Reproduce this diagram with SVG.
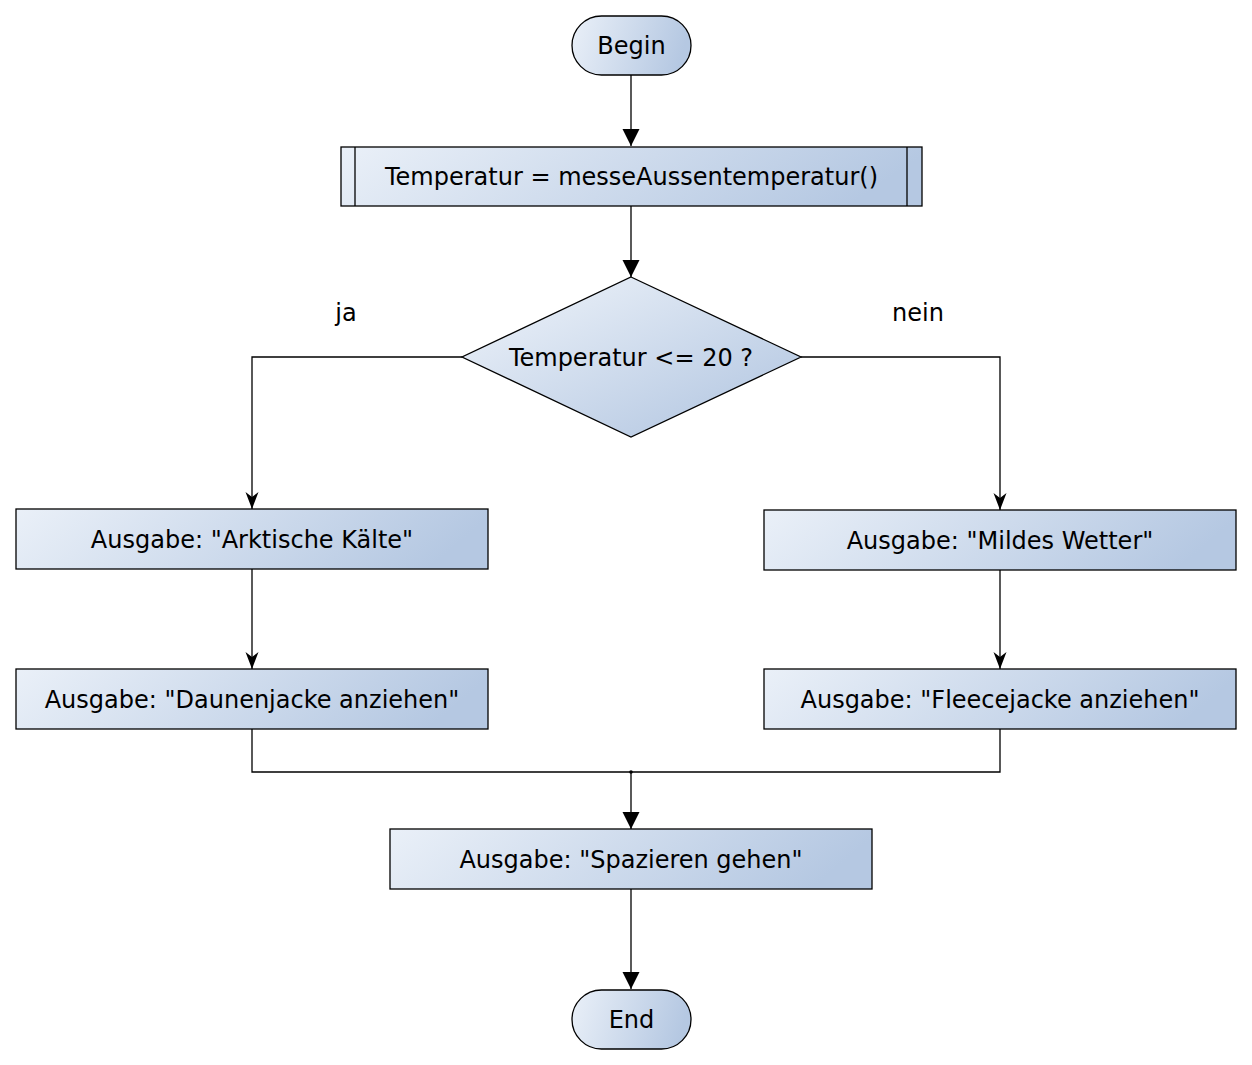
<svg xmlns="http://www.w3.org/2000/svg" width="1252" height="1065" viewBox="0 0 1252 1065">
<style>
.shape{fill:url(#g);stroke:#000;stroke-width:1.3}
.lbl{font-family:"DejaVu Sans",sans-serif;font-size:24px;fill:#000;text-anchor:middle;dominant-baseline:central}
.edge{fill:none;stroke:#000;stroke-width:1.3}
</style>
<defs>
<linearGradient id="g" x1="0" y1="0" x2="1" y2="0.15">
<stop offset="0" stop-color="#eaf0f8"/>
<stop offset="1" stop-color="#b5c8e2"/>
</linearGradient>
<linearGradient id="gd" x1="0" y1="0" x2="1" y2="1">
<stop offset="0.1" stop-color="#eaf0f8"/>
<stop offset="0.9" stop-color="#b5c8e2"/>
</linearGradient>
<marker id="af" markerUnits="userSpaceOnUse" markerWidth="18" markerHeight="18" refX="17" refY="8.5" orient="auto">
<path d="M0,0 L17,8.5 L0,17 z" fill="#000"/>
</marker>
<marker id="ab" markerUnits="userSpaceOnUse" markerWidth="18" markerHeight="14" refX="17" refY="6.5" orient="auto">
<path d="M0,0 L17,6.5 L0,13 L5,6.5 z" fill="#000"/>
</marker>
</defs>
<g id="connectors">
<path class="edge" d="M631,75 L631,146" marker-end="url(#af)"/>
<path class="edge" d="M631,206 L631,277" marker-end="url(#af)"/>
<path class="edge" d="M462,357 L252,357 L252,509" marker-end="url(#ab)"/>
<path class="edge" d="M801,357 L1000,357 L1000,510" marker-end="url(#ab)"/>
<path class="edge" d="M252,569 L252,669" marker-end="url(#ab)"/>
<path class="edge" d="M1000,570 L1000,669" marker-end="url(#ab)"/>
<path class="edge" d="M252,729 L252,772 L1000,772 L1000,729"/>
<circle cx="631" cy="772" r="1.8" fill="#000"/>
<path class="edge" d="M631,772 L631,829" marker-end="url(#af)"/>
<path class="edge" d="M631,889 L631,989" marker-end="url(#af)"/>
<text class="lbl" x="346" y="313">ja</text>
<text class="lbl" x="918" y="313">nein</text>
</g>
<g id="begin">
<rect class="shape" x="572" y="16" width="119" height="59" rx="29.5"/>
<text class="lbl" x="631.5" y="46">Begin</text>
</g>
<g id="subprocess">
<rect class="shape" x="341" y="147" width="581" height="59"/>
<line class="edge" x1="355" y1="147" x2="355" y2="206"/>
<line class="edge" x1="907" y1="147" x2="907" y2="206"/>
<text class="lbl" x="631.5" y="177">Temperatur = messeAussentemperatur()</text>
</g>
<g id="decision">
<polygon class="shape" style="fill:url(#gd)" points="631,277 801,357 631,437 462,357"/>
<text class="lbl" x="631" y="358">Temperatur &lt;= 20 ?</text>
</g>
<g id="kaelte">
<rect class="shape" x="16" y="509" width="472" height="60"/>
<text class="lbl" x="252" y="540">Ausgabe: "Arktische Kälte"</text>
</g>
<g id="mild">
<rect class="shape" x="764" y="510" width="472" height="60"/>
<text class="lbl" x="1000" y="541">Ausgabe: "Mildes Wetter"</text>
</g>
<g id="daunen">
<rect class="shape" x="16" y="669" width="472" height="60"/>
<text class="lbl" x="252" y="700">Ausgabe: "Daunenjacke anziehen"</text>
</g>
<g id="fleece">
<rect class="shape" x="764" y="669" width="472" height="60"/>
<text class="lbl" x="1000" y="700">Ausgabe: "Fleecejacke anziehen"</text>
</g>
<g id="spazieren">
<rect class="shape" x="390" y="829" width="482" height="60"/>
<text class="lbl" x="631" y="860">Ausgabe: "Spazieren gehen"</text>
</g>
<g id="end">
<rect class="shape" x="572" y="990" width="119" height="59" rx="29.5"/>
<text class="lbl" x="631.5" y="1020">End</text>
</g>
</svg>
